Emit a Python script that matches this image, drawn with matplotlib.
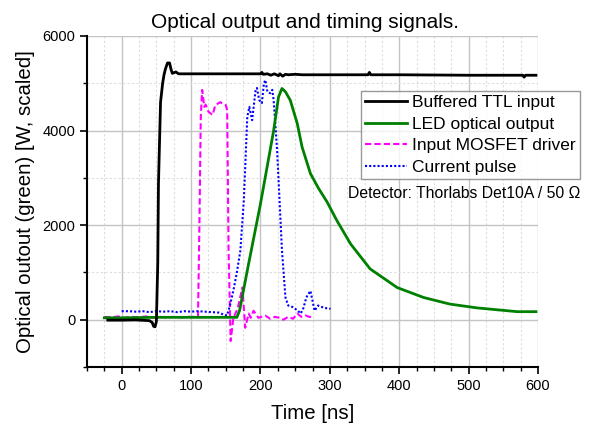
import matplotlib
matplotlib.use('Agg')
import matplotlib.pyplot as plt
from matplotlib.ticker import MultipleLocator

plt.rcParams['font.family'] = ['Liberation Sans', 'DejaVu Sans']

# values (time in ns, signal in scaled W)
ttl_t = [-20, 0, 20, 40, 44, 46, 48, 50, 52, 53, 56, 59, 61, 63, 66, 69, 71, 73, 78, 82,
         150, 200, 202, 204, 210, 215, 220, 226, 228, 232, 236, 240, 250, 260, 300,
         355, 357, 359, 400, 500, 578, 580, 582, 597]
ttl_v = [-10, -10, -5, -20, -60, -140, -150, -40, 1200, 2880, 4600, 5000, 5180, 5300, 5430,
         5430, 5300, 5210, 5240, 5200, 5200, 5200, 5230, 5190, 5200, 5170, 5200, 5160, 5200,
         5150, 5190, 5180, 5190, 5180, 5180, 5180, 5230, 5180, 5180, 5170, 5170, 5130, 5170,
         5170]

led_t = [-25, 0, 50, 100, 150, 166, 170, 181, 200, 219, 226, 231, 236, 243, 253, 260, 272,
         284, 296, 310, 330, 358, 397, 435, 473, 512, 541, 570, 597]
led_v = [40, 40, 50, 50, 50, 50, 200, 1040, 2450, 4000, 4710, 4890, 4820, 4640, 4150, 3650,
         3090, 2770, 2490, 2100, 1600, 1075, 680, 470, 330, 250, 210, 170, 170]

mos_t = [-25, -15, -5, 5, 15, 25, 35, 45, 55, 65, 75, 85, 95, 105, 110, 112, 114, 116, 119,
         121, 125, 131, 135, 142, 150, 152, 154, 157, 161, 167, 174, 178, 183, 186, 190, 197,
         207, 214, 221, 228, 233, 240, 247, 253, 259, 265, 270, 275]
mos_v = [60, 50, 70, 40, 60, 50, 70, 40, 60, 50, 60, 50, 60, 60, 70, 2000, 4300, 4860, 4500,
         4550, 4400, 4330, 4540, 4600, 4540, 4430, 1500, -450, 40, 230, 680, -170, 130, 40,
         190, 40, 85, 20, 60, 40, 0, 60, 20, 130, 60, 90, 60, 60]

cur_t = [0, 10, 20, 30, 40, 50, 60, 70, 80, 90, 100, 110, 120, 130, 140, 148, 152, 156, 161,
         166, 171, 176, 181, 184, 188, 193, 195, 198, 202, 205, 207, 210, 214, 217, 219, 224,
         231, 236, 240, 246, 253, 258, 262, 266, 272, 275, 278, 283, 292, 301]
cur_v = [180, 180, 170, 180, 160, 180, 170, 180, 160, 180, 170, 180, 170, 160, 150, 100, 90,
         300, 620, 1000, 1460, 2520, 4290, 4500, 4220, 4860, 4900, 4650, 4580, 5000, 5070,
         4820, 4790, 4860, 4640, 3580, 1460, 470, 300, 270, 200, 130, 250, 470, 610, 400,
         190, 300, 250, 230]

labels = ['Buffered TTL input', 'LED optical output', 'Input MOSFET driver', 'Current pulse']

fig = plt.figure(figsize=(5.93, 4.25), dpi=100)
ax = fig.add_axes([0.1467, 0.1365, 0.7606, 0.7788])

ax.plot(ttl_t, ttl_v, color='black', lw=2, label=labels[0], zorder=5)
ax.plot(led_t, led_v, color='#008000', lw=2, label=labels[1], zorder=4)
ax.plot(mos_t, mos_v, color='#ff00ff', lw=1.5, ls=(0, (3, 1.5)), label=labels[2], zorder=3)
ax.plot(cur_t, cur_v, color='#0000ff', lw=1.5, ls=(0, (1, 1)), label=labels[3], zorder=3)

ax.set_xlim(-50, 600)
ax.set_ylim(-1000, 6000)
ax.xaxis.set_major_locator(MultipleLocator(100))
ax.xaxis.set_minor_locator(MultipleLocator(25))
ax.yaxis.set_major_locator(MultipleLocator(2000))
ax.yaxis.set_minor_locator(MultipleLocator(1000))
ax.set_xticks([0, 100, 200, 300, 400, 500, 600])

ax.grid(True, which='major', color='#c4c4c4', lw=1)
ax.grid(True, which='minor', color='#dddddd', lw=0.8, ls=(0, (2, 2)))
ax.set_axisbelow(True)

for s in ['top', 'right']:
    ax.spines[s].set_visible(False)
for s in ['left', 'bottom']:
    ax.spines[s].set_linewidth(1.5)

ax.tick_params(which='major', direction='out', length=5, width=1.2, labelsize=10.5, pad=3.5)
ax.tick_params(which='minor', direction='out', length=3, width=1)

ax.set_xlabel('Time [ns]', fontsize=14.7, va='top')
ax.xaxis.set_label_coords(0.5, -0.112)
ax.set_ylabel('Optical outout (green) [W, scaled]', fontsize=14.7)
ax.yaxis.set_label_coords(-0.115, 0.5)

fig.text(305 / 593, 1 - 28 / 425, 'Optical output and timing signals.', fontsize=15,
         ha='center', va='baseline')

leg = fig.legend(loc='upper left', bbox_to_anchor=(361 / 593, 1 - 91 / 425),
                 fontsize=12.5, frameon=True, fancybox=False, borderpad=0.25,
                 labelspacing=0.36, handlelength=2.4, handletextpad=0.3,
                 borderaxespad=0)
leg.get_frame().set_edgecolor('#808080')
leg.get_frame().set_linewidth(1)

fig.text(348 / 593, 1 - 198 / 425, 'Detector: Thorlabs Det10A / 50 \u03a9', fontsize=11.3,
         ha='left', va='baseline')

fig.savefig('out.png', dpi=100)
